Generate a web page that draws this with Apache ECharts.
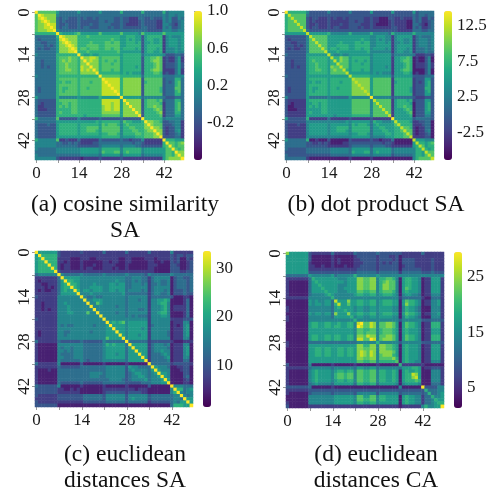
<!DOCTYPE html>
<html>
<head>
<meta charset="utf-8">
<style>html,body{margin:0;padding:0;background:#fff}#c{width:494px;height:496px;filter:blur(0.7px)}</style>
<script src="https://cdn.jsdelivr.net/npm/echarts@6/dist/echarts.min.js"></script>
</head>
<body>
<div id="c"></div>
<script>
// Cell levels: one hex digit per cell, 0 = darkest seen, a = top of the colour bar.
const cosineRows = [
"a777777 5333333 5333333 5333333 6333333 6333333 6344444",
"7a98888 4333333 3333333 3333333 3333333 3333333 4344344",
"79a9888 3233222 3232232 3333322 3221113 3223222 4342243",
"789a988 3232222 3222222 3323322 3221112 3222211 4342234",
"7889a99 3223222 3222322 3333222 3211112 3222211 4432134",
"78899a9 3233222 3233222 3332322 3222222 3322211 4342234",
"788899a 4333333 3333333 3333333 3333333 3322222 4443344",
"6666666 a655556 7555555 7555555 7555554 7555555 7555555",
"3333333 6a98888 6667666 6666666 5566655 2566666 1454445",
"3233333 59a9888 6666666 6666766 5565655 2566556 1455545",
"3322333 589a988 6666766 6677677 5566656 2556556 1455545",
"3332323 5889a98 6667777 6677777 5566666 2566666 1455545",
"3232233 58889a9 6776777 6677677 5666656 2566656 1444545",
"3333333 588899a 6667666 6666667 5555555 2566556 1444544",
"4333333 6666666 a655655 6666666 5666666 3555555 4222332",
"3333333 6777877 6a88998 6777777 5666666 2667787 1211351",
"3323333 6787877 68a8988 6767767 5666666 2667887 1211351",
"3323333 6778777 688a888 6777677 5666666 2666787 1222352",
"3323233 6778777 6988a88 6777777 5666656 2666787 1222352",
"3333333 6778877 69898a8 6777677 5666666 2667887 1111351",
"3333333 6777777 688888a 6666666 5656555 2666776 1211351",
"4333333 6666666 6666666 a777777 6666666 3666666 3333444",
"3333333 6777777 6777777 7a99999 6888888 2777777 2333663",
"3333333 6676677 6777677 79a9999 6888888 2677777 2323673",
"3333333 6777777 6777777 799a999 6888888 2777777 2333673",
"3233333 6766777 6776777 7999a99 6888888 2777776 2333773",
"3233333 6767777 6777777 79999a9 6888888 2777776 2333673",
"3333333 6777777 6777777 799999a 6888888 2777777 2333663",
"5333333 6444444 5444444 6555555 a555555 3444444 3222333",
"3222222 6777777 6666666 6999999 5a88888 2677767 2333663",
"3212222 6677677 6666666 6999899 58a8888 2677776 1333673",
"3112222 6767677 6666666 6899899 588a888 2677877 1333673",
"3111222 6666677 6666666 6899899 5888a88 2666787 1333673",
"3222222 6766677 6666666 6888888 58888a8 2666678 1333663",
"3222222 6666666 6656666 6777777 588888a 2666667 1333553",
"6333333 7222222 4222222 3222222 3222222 a666666 3444443",
"3333333 5555555 5555556 5666666 4766555 6a88776 2233441",
"3222322 5666666 5666666 5767776 4676666 68a8777 2223441",
"3222222 5666666 5667777 5777777 4667766 688a887 2122441",
"3222222 5666666 5667776 5777777 4666776 6788a88 2122451",
"3222222 5666666 5666666 5667776 4666677 67778a8 2122341",
"3222222 5555555 5555555 5666666 4555566 677788a 2222331",
"6444444 7112111 3111111 3222222 3221222 4111111 a666555",
"4444444 3322323 2111122 3333333 3333233 2111111 6a77678",
"4444444 3333333 2222222 3444444 3444433 2222222 67a7677",
"4333333 4444444 4555555 4666666 4666666 4555555 577a767",
"3333333 4444444 4555555 4766677 4676666 4555555 5776a88",
"4333333 3333333 3444444 3555555 3555555 3444444 57768a8",
"4444444 2111111 1011111 2111111 2111111 1111111 578888a"
];
const dotRows = [
"a666666 4222222 4222222 4222222 5222222 5222222 5233333",
"6977777 3222222 2222222 2222222 2222222 2222222 3233233",
"6797777 2122111 2121121 2222211 2110002 2112111 3231132",
"6779777 2121111 2111111 2212211 2110001 2111100 3231123",
"6777977 2112111 2111211 2222111 2100001 2111100 3321023",
"6777797 2122111 2122111 2221211 2111111 2211100 3231123",
"6777779 3222222 2222222 2222222 2222222 2211111 3332233",
"5555555 9555555 6444444 6444444 6444443 6444444 6444444",
"2222222 4977777 5555555 5555555 4455544 1455555 1343334",
"2122222 4797777 5555555 5555655 4454544 1455445 1344434",
"2211222 4779777 5555655 5566566 4455545 1445445 1344434",
"2221212 4777977 5556666 5566666 4455555 1455555 1344434",
"2121122 4777797 5665666 5566566 4555545 1455545 1333434",
"2222222 4777779 5556555 5555556 4444444 1455445 1333433",
"3222222 5555555 9544544 5555555 4555555 2444444 3111221",
"2222222 5666666 5966877 5666666 4555555 1556676 0100240",
"2212222 5676666 5696877 5656656 4555555 1556776 0100240",
"2212222 5667666 5669777 5666566 4555555 1555676 0111241",
"2212122 5667666 5877977 5666666 4555545 1555676 0111241",
"2222222 5667766 5787796 5666566 4555555 1556776 0000240",
"2222222 5666666 5777779 5555555 4545444 1555665 0100240",
"3222222 5555555 5555555 9666666 5555555 2555555 2222333",
"2222222 5666666 5666666 6988888 5777777 1666666 1222552",
"2222222 5565566 5666566 6898888 5777777 1566666 1212562",
"2222222 5666666 5666666 6889888 5777777 1666666 1222562",
"2122222 5655666 5665666 6888988 5777777 1666665 1222662",
"2122222 5656666 5666666 6888898 5777777 1666665 1222562",
"2222222 5666666 5666666 6888889 5777777 1666666 1222552",
"4222222 5333333 4333333 5444444 a444444 2333333 2111222",
"2111111 5666666 5555555 5777777 4977777 1566656 1222552",
"2101111 5566566 5555555 5777777 4797777 1566665 0222562",
"2001111 5656566 5555555 5777777 4779777 1566766 0222562",
"2000111 5555566 5555555 5777777 4777977 1555676 0222562",
"2111111 5655566 5555555 5777777 4777797 1555567 0222552",
"2111111 5555555 5545555 5666666 4777779 1555556 0222442",
"5222222 6111111 3111111 2111111 2111111 a555555 2333332",
"2222222 4444444 4444445 4555555 3655444 5966665 1122330",
"2111211 4555555 4555555 4656665 3565555 5796666 1112330",
"2111111 4555555 4556666 4666666 3556655 5669776 1011330",
"2111111 4555555 4556665 4666666 3555665 5667977 1011340",
"2111111 4555555 4555555 4556665 3555566 5666797 1011230",
"2111111 4444444 4444444 4555555 3444455 5666779 1111220",
"5333333 6001000 2000000 2111111 2110111 3000000 9555444",
"3333333 2211212 1000011 2222222 2222122 1000000 5966567",
"3333333 2222222 1111111 2333333 2333322 1111111 5697566",
"3222222 3333333 3444444 3555555 3555555 3444444 4669656",
"2222222 3333333 3444444 3655566 3565555 3444444 4665977",
"3222222 2222222 2333333 3444444 3444444 2333333 4665797",
"3333333 1000000 0000000 1000000 1000000 0000000 4677779"
];
const euclidSaRows = [
"a555555 2111111 2111111 3111111 3111111 3111111 4111111",
"5a66666 2111111 1111111 1111111 1111111 1111111 2122122",
"56a6666 1111000 1110011 1111100 1100001 1101111 2120021",
"566a666 1101000 1000000 1101100 1100000 1100100 2120012",
"5666a66 1011000 1000100 1111000 1000000 1110000 2210012",
"56666a6 1011000 1011000 1110100 1000000 1100000 2220012",
"566666a 2111111 1111111 1111111 1111111 1100000 2221122",
"3444444 a433333 4333333 4333333 4333332 4333333 4333333",
"1111111 3a55555 4444444 4444444 3344433 1344444 0233223",
"1011111 35a6655 4444444 4444544 3343433 1344334 0233323",
"1100111 356a665 4444544 4455455 3344434 1334334 0233323",
"1110101 3566a65 4445555 4455555 3344444 1344444 0233323",
"1010011 35655a6 4554555 4455455 3444434 1344434 0222323",
"1111111 355555a 4445444 4444445 3333333 1344334 0222322",
"2111111 4444444 a433433 4444444 3444444 1333333 2000110",
"1111111 4444444 4a44555 4444444 3444344 1445565 0000130",
"1101111 4454444 44a4475 4444444 3444444 1445664 0000130",
"1101111 4445444 444a444 4444344 3444444 1444564 0111130",
"1101011 4445444 4444a44 4444444 3444334 1444564 0111130",
"1111111 4445544 44744a4 4444344 3444444 1445664 0000130",
"1111111 4444444 444444a 4444444 3434333 1444554 0000130",
"2111111 4444444 4444444 a444444 4444444 1444444 1111222",
"1111111 4444444 4444444 4a56567 4555555 1444444 0111440",
"1111111 4343344 4444344 45a5555 4555555 1344444 0101450",
"1111111 4444444 4444444 455a555 4555545 1444444 0111450",
"1011111 4433444 4443444 4555a55 4555555 1444443 0111450",
"1011111 4434444 4444444 45555a5 4555455 1444443 0111450",
"1111111 4444444 4444444 475555a 4555555 1444444 0111440",
"3111111 3222222 3222222 4333333 a333333 1222222 1000111",
"1000000 4444444 4333333 4656555 3a55555 1344434 0111440",
"1000000 4344344 4333333 4555555 35a5555 1344443 0111450",
"1000000 4434344 4333333 4555555 355a555 1344544 0111450",
"1000000 4333344 4333333 4555455 3555a55 1333454 0111450",
"1000000 4433344 4333333 4555555 35555a5 1333345 0111440",
"1000000 4333333 4323333 4444444 355555a 1333334 0111330",
"3111111 4000000 2000000 1000000 1000000 a333333 1222221",
"1111111 3222222 3333333 3444444 2544333 3a54443 0011220",
"1000100 3333333 3333333 3444444 2454444 35a5444 0001220",
"1000000 3333333 3334444 3444444 2345544 345a554 0000220",
"1000000 3333333 3334443 3444444 2344554 3445a54 0000230",
"1000000 3333333 3333333 3344443 2344445 34445a5 0000120",
"1000000 3222222 3222222 3333333 2222233 344455a 0000110",
"3222222 4000000 1000000 1000000 1000000 2000000 a444333",
"2222222 1100101 0000000 1111111 1110111 0000000 4a66345",
"2222222 1111111 0000000 1222222 1222211 0000000 46a4344",
"2111111 2222222 2333333 2444444 2444444 2333333 344a434",
"1111111 2222222 2333333 2444444 2454444 2333333 3443a55",
"2111111 1111111 1222222 2333333 2333333 1222222 34355a5",
"2222222 0000000 0000000 0000000 0000000 0000000 366655a"
];
const euclidCaRows = [
"8555555 2111111 3111111 3222222 3222222 2111111 3111111",
"5555555 2000000 1000000 1222222 1222112 0111111 1111111",
"5555555 2000000 1010000 1122222 1222212 0222211 1112111",
"5555555 1000000 1010000 1112222 1212122 0222211 1112111",
"5555555 1100100 1000100 1122222 1222222 0122211 1112111",
"5555555 1111111 1111111 1222222 1222222 0222222 1112111",
"5555555 2222222 2222222 2333333 2333333 1333333 2223222",
"3333333 5444444 5344444 6444444 5444444 4444444 4444444",
"1111111 3655555 5544455 5887788 4667764 0566554 0115551",
"1000000 3565555 5555455 5887788 4678774 0566554 0115551",
"1000000 3556555 5544455 5887788 4688774 0566554 0115551",
"1000000 3555655 5544555 5887788 4688774 0576554 0115551",
"1000000 3555565 5544455 5776677 4677764 0565554 0115551",
"1000000 3444456 5444444 5665566 4566654 0455443 0114441",
"1111111 4444444 6444444 4444444 4444444 1333333 1003331",
"0000000 5454455 3955585 5665566 4566655 0576654 0114451",
"0000000 5455455 3695575 5665566 4566655 0586654 0114451",
"1000000 4444444 3565555 4554455 4555544 0465543 0004441",
"1000000 4444444 3555655 4554455 4555544 0465543 0004441",
"0000000 5455455 3855585 5665566 4566655 0576654 0114451",
"1000000 4444444 3555556 4554455 4555544 0465543 0004441",
"1000000 4444444 4444444 6444444 4444444 2444444 2223332",
"0000000 5665566 5565566 49a7798 4778875 0576654 0116661",
"0000000 5665566 5665566 4a97798 4778875 0576654 0116661",
"0000000 5555555 5555555 4776677 4677765 0565554 0115551",
"0000000 5555555 5555555 4776777 4677765 0565554 0115551",
"0000000 5665566 5665566 4887988 4778875 0576654 0116661",
"0000000 5665566 5665566 49977a9 4788875 0576654 0116661",
"1000000 3333333 3333333 3444444 6444444 2444444 2223332",
"1000000 5555555 5555555 5886688 4887765 0565554 0115551",
"0000000 5566566 5566566 5887788 4887765 0565554 0115551",
"0000000 5566566 5566566 5898798 4888875 0565554 0115551",
"0000000 5566566 5566566 5898798 4788865 0565554 0115551",
"0000000 5555555 5555555 5887788 4777786 0565554 0115551",
"0000000 5555555 5555555 5776677 4666667 0565544 0114441",
"2000000 4000000 1000000 1000000 1000000 6111111 1000000",
"1111111 3444444 3444444 3554455 3444444 3555665 0112221",
"1000000 4565555 4566566 4776677 4665565 0565565 0004441",
"1000000 4565555 4677677 4776677 4665565 0566985 0004441",
"1000000 4565555 4677677 4776677 4665565 0566895 0004441",
"1000000 4565555 4566566 4776677 4665565 0566676 0004441",
"1000000 3454444 3555555 3665566 3555554 0455554 0003331",
"2222222 3000000 1000000 0000000 0000000 4000000 a222244",
"1111111 2222222 2222222 2222222 2222222 2222222 2633344",
"1000000 2333333 2333333 2444444 2444444 2333333 2363345",
"0000000 4444444 4555555 4775577 4665555 0565544 1336445",
"0000000 4444444 4555555 4776677 4665555 0565544 1334655",
"1000000 4444444 4555555 4665566 4555555 0565544 1334566",
"2000000 1111111 1111111 1111111 1111111 0111111 464455a"
];

const cosineRange = [-0.6, 1.0];
const dotRange = [-6.4, 14.6];
const euclidSaRange = [1.6, 33.5];
const euclidCaRange = [1.4, 29.5];

const cosineTicks = [1.0, 0.8, 0.6, 0.4, 0.2, 0, -0.2, -0.4];
const cosineLabels = [1.0, 0.6, 0.2, -0.2];
const dotTicks = [12.5, 10, 7.5, 5, 2.5, 0, -2.5, -5];
const dotLabels = [12.5, 7.5, 2.5, -2.5];
const euclidSaTicks = [30, 25, 20, 15, 10, 5];
const euclidSaLabels = [30, 20, 10];
const euclidCaTicks = [25, 20, 15, 10, 5];
const euclidCaLabels = [25, 15, 5];

const captionA = "(a) cosine similarity\nSA";
const captionB = "(b) dot product SA";
const captionC = "(c) euclidean\ndistances SA";
const captionD = "(d) euclidean\ndistances CA";

// Level 0 reads a little above the very bottom of each colour bar.
const darkestShare = 0.09;

const viridis = ['#440154','#482475','#414487','#355f8d','#2a788e','#21908d','#22a884','#42be71','#7ad151','#bddf26','#fde725'];
const serif = '"Liberation Serif","Times New Roman",serif';
const cats = Array.from({length: 49}, (_, i) => String(i));

const panels = [
  {rows: cosineRows, range: cosineRange, ticks: cosineTicks, labels: cosineLabels, fmt: v => v.toFixed(1),
   box: [35, 11, 149, 149], bar: [194, 11, 8, 149], caption: captionA, cx: 125, cy: 192},
  {rows: dotRows, range: dotRange, ticks: dotTicks, labels: dotLabels, fmt: v => v.toFixed(1),
   box: [285, 11, 149, 149], bar: [444, 11, 8, 149], caption: captionB, cx: 376, cy: 192},
  {rows: euclidSaRows, range: euclidSaRange, ticks: euclidSaTicks, labels: euclidSaLabels, fmt: v => String(v),
   box: [35, 251, 158, 156], bar: [203, 251, 8, 156], caption: captionC, cx: 125, cy: 442},
  {rows: euclidCaRows, range: euclidCaRange, ticks: euclidCaTicks, labels: euclidCaLabels, fmt: v => String(v),
   box: [286, 252, 158, 156], bar: [454, 252, 8, 156], caption: captionD, cx: 376, cy: 442}
];

const grid = [], xAxis = [], yAxis = [], series = [], visualMap = [], graphic = [];
const tickStyle = {show: true, length: 3, lineStyle: {color: '#555', width: 0.6}};
const labelFont = {fontFamily: serif, fontSize: 17, color: '#1a1a1a'};

panels.forEach((p, k) => {
  const lo = p.range[0], hi = p.range[1];
  const data = [];
  p.rows.forEach((row, r) => {
    row.replace(/ /g, '').split('').forEach((ch, c) => {
      const share = darkestShare + (1 - darkestShare) * parseInt(ch, 16) / 10;
      data.push([c, r, lo + share * (hi - lo)]);
    });
  });
  const g = k * 2;
  grid.push({left: p.box[0], top: p.box[1], width: p.box[2], height: p.box[3]});
  xAxis.push({type: 'category', gridIndex: g, data: cats, position: 'bottom',
    axisLine: {show: false}, splitLine: {show: false},
    axisTick: Object.assign({alignWithLabel: true, interval: i => i % 7 === 0}, tickStyle),
    axisLabel: Object.assign({interval: i => i % 14 === 0, margin: 5, hideOverlap: false}, labelFont)});
  yAxis.push({type: 'category', gridIndex: g, data: cats, inverse: true,
    axisLine: {show: false}, splitLine: {show: false},
    axisTick: Object.assign({alignWithLabel: true, interval: i => i % 7 === 0}, tickStyle),
    axisLabel: Object.assign({interval: i => i % 14 === 0, rotate: 90, margin: 2, hideOverlap: false}, labelFont)});
  series.push({type: 'heatmap', xAxisIndex: g, yAxisIndex: g, data: data, progressive: 0,
    itemStyle: {borderWidth: 0}, emphasis: {disabled: true}, silent: true, animation: false});

  grid.push({left: p.bar[0], top: p.bar[1], width: p.bar[2], height: p.bar[3]});
  xAxis.push({type: 'value', gridIndex: g + 1, show: false, min: 0, max: 1});
  yAxis.push({type: 'value', gridIndex: g + 1, position: 'right', min: lo, max: hi,
    axisLine: {show: false}, splitLine: {show: false},
    axisTick: Object.assign({customValues: p.ticks}, tickStyle),
    axisLabel: Object.assign({customValues: p.labels, formatter: p.fmt, margin: 5, showMinLabel: true, showMaxLabel: true}, labelFont)});

  visualMap.push({type: 'continuous', seriesIndex: k, min: lo, max: hi, calculable: false, realtime: false,
    hoverLink: false, left: p.bar[0], top: p.bar[1], itemWidth: p.bar[2], itemHeight: p.bar[3], padding: 0,
    text: null, showLabel: false, inRange: {color: viridis}, silent: true});

  graphic.push({type: 'text', silent: true, x: p.cx, y: p.cy, style: {text: p.caption, textAlign: 'center',
    textVerticalAlign: 'top', font: '23.5px ' + serif, lineHeight: 26, fill: '#111'}});
});

const chart = echarts.init(document.getElementById('c'), null, {renderer: 'canvas'});
chart.setOption({animation: false, backgroundColor: '#fff', grid, xAxis, yAxis, series, visualMap, graphic});
</script>
</body>
</html>
